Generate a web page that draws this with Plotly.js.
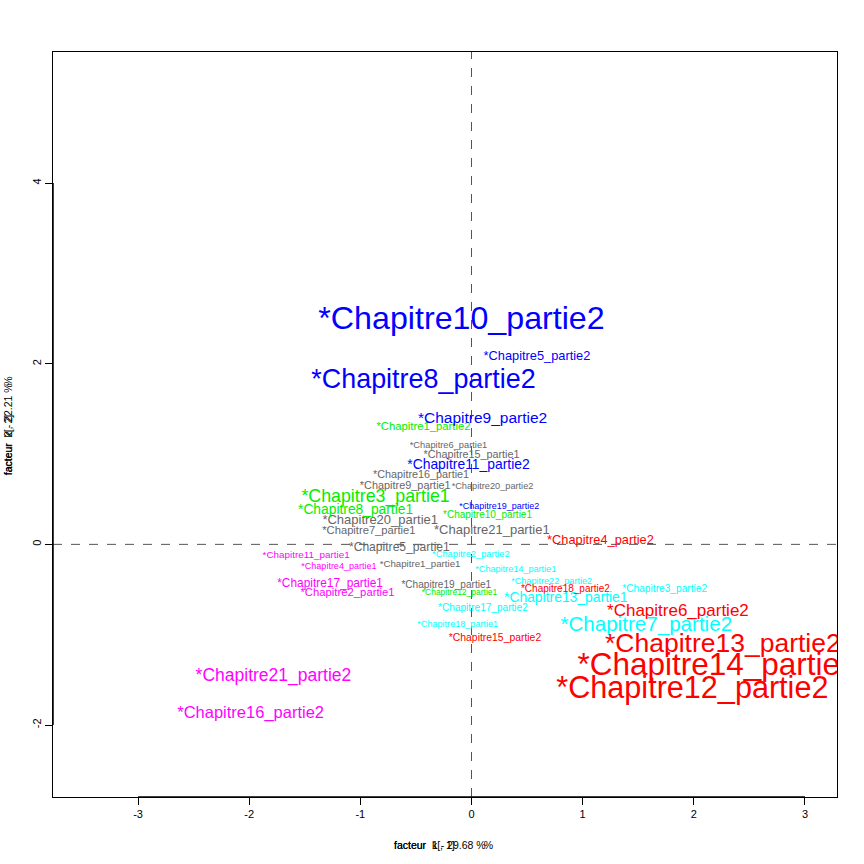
<!DOCTYPE html>
<html>
<head>
<meta charset="utf-8">
<script src="https://cdn.plot.ly/plotly-3.0.1.min.js"></script>
<style>html,body{margin:0;padding:0;background:#fff;}#chart{width:864px;height:864px;}</style>
</head>
<body>
<div id="chart"></div>
<script>
// ---- data (one set of arrays per class / colour) ----
const blueLabels = ["*Chapitre10_partie2","*Chapitre5_partie2","*Chapitre8_partie2","*Chapitre9_partie2","*Chapitre11_partie2","*Chapitre19_partie2"];
const blueX = [-0.09, 0.589, -0.432, 0.10, -0.027, 0.25];
const blueY = [2.473, 2.077, 1.808, 1.390, 0.873, 0.418];
const blueW = [32.2, 12.8, 26.9, 15.5, 13.9, 9.0];

const greenLabels = ["*Chapitre1_partie2","*Chapitre3_partie1","*Chapitre8_partie1","*Chapitre10_partie1","*Chapitre12_partie1"];
const greenX = [-0.432, -0.863, -1.043, 0.144, -0.108];
const greenY = [1.293, 0.513, 0.372, 0.322, -0.532];
const greenW = [11.3, 17.8, 13.8, 10.0, 8.5];

const greyLabels = ["*Chapitre6_partie1","*Chapitre15_partie1","*Chapitre16_partie1","*Chapitre9_partie1","*Chapitre20_partie2","*Chapitre20_partie1","*Chapitre7_partie1","*Chapitre21_partie1","*Chapitre5_partie1","*Chapitre1_partie1","*Chapitre19_partie1"];
const greyX = [-0.207, 0.0, -0.454, -0.596, 0.189, -0.821, -0.923, 0.183, -0.649, -0.463, -0.227];
const greyY = [1.092, 0.986, 0.765, 0.647, 0.634, 0.264, 0.149, 0.154, -0.038, -0.222, -0.453];
const greyW = [9.3, 10.8, 10.8, 10.9, 9.2, 13.0, 11.2, 13.0, 12.1, 9.7, 10.1];

const magentaLabels = ["*Chapitre11_partie1","*Chapitre4_partie1","*Chapitre17_partie1","*Chapitre2_partie1","*Chapitre21_partie2","*Chapitre16_partie2"];
const magentaX = [-1.488, -1.193, -1.272, -1.115, -1.782, -1.987];
const magentaY = [-0.119, -0.244, -0.435, -0.542, -1.459, -1.872];
const magentaW = [9.9, 9.0, 11.9, 11.3, 17.5, 16.5];

const cyanLabels = ["*Chapitre2_partie2","*Chapitre14_partie1","*Chapitre22_partie2","*Chapitre3_partie2","*Chapitre13_partie1","*Chapitre17_partie2","*Chapitre18_partie1","*Chapitre7_partie2"];
const cyanX = [-0.006, 0.398, 0.721, 1.738, 0.848, 0.103, -0.124, 1.572];
const cyanY = [-0.119, -0.281, -0.414, -0.497, -0.603, -0.708, -0.894, -0.900];
const cyanW = [9.3, 9.1, 9.1, 10.2, 13.9, 10.1, 9.1, 20.6];

const redLabels = ["*Chapitre4_partie2","*Chapitre18_partie2","*Chapitre15_partie2","*Chapitre6_partie2","*Chapitre13_partie2","*Chapitre14_partie2","*Chapitre12_partie2"];
const redX = [1.16, 0.845, 0.211, 1.857, 2.261, 2.213, 1.987];
const redY = [0.038, -0.497, -1.040, -0.750, -1.114, -1.362, -1.620];
const redW = [12.8, 10.0, 10.4, 17.0, 26.5, 31.5, 30.6];

const xTicks = [-3, -2, -1, 0, 1, 2, 3];
const yTicks = [-2, 0, 2, 4];
const NB = "\u00a0";
const xTitleA = "facteur" + NB + NB + "1" + NB + "-" + NB + "29.68" + NB + "%";
const xTitleB = "facteur" + NB + NB + "k[," + NB + "1]" + NB.repeat(10) + "%";
const yTitleA = "facteur" + NB + NB + "2" + NB + "-" + NB + "22.21" + NB + "%";
const yTitleB = "facteur" + NB + NB + "k[," + NB + "2]" + NB.repeat(10) + "%";

// ---- chart ----
const FONT = "Liberation Sans, Arial, Helvetica, sans-serif";
function textTrace(labels, xs, ys, ws, color) {
  return {
    type: "scatter", mode: "text",
    x: xs, y: ys, text: labels,
    textposition: "middle center",
    textfont: {family: FONT, size: ws, color: color},
    cliponaxis: true, hoverinfo: "skip", showlegend: false
  };
}
const traces = [
  textTrace(greyLabels, greyX, greyY, greyW, "#666666"),
  textTrace(greenLabels, greenX, greenY, greenW, "#00EE00"),
  textTrace(magentaLabels, magentaX, magentaY, magentaW, "#FF00FF"),
  textTrace(cyanLabels, cyanX, cyanY, cyanW, "#00FFFF"),
  textTrace(blueLabels, blueX, blueY, blueW, "#0000FF"),
  textTrace(redLabels, redX, redY, redW, "#FF0000")
];

const titleFont = {family: FONT, size: 10.5, color: "#000"};
const layout = {
  width: 864, height: 864,
  margin: {l: 53, r: 27, t: 52, b: 67},
  paper_bgcolor: "#fff", plot_bgcolor: "#fff",
  font: {family: FONT, color: "#000"},
  showlegend: false, hovermode: false,
  xaxis: {
    range: [-3.765, 3.288], tickvals: xTicks, ticktext: xTicks.map(String),
    ticks: "outside", ticklen: 7, tickwidth: 1, tickcolor: "#000",
    showgrid: false, zeroline: false,
    showline: true, mirror: true, linecolor: "#000", linewidth: 1,
    tickfont: {size: 11, color: "#000"}, fixedrange: true
  },
  yaxis: {
    range: [-2.797, 5.451], tickvals: yTicks, ticktext: yTicks.map(String),
    ticks: "outside", ticklen: 7, tickwidth: 1, tickcolor: "#000",
    tickangle: -90,
    showgrid: false, zeroline: false,
    showline: true, mirror: true, linecolor: "#000", linewidth: 1,
    tickfont: {size: 11, color: "#000"}, fixedrange: true
  },
  shapes: [
    {type: "line", xref: "x", yref: "paper", x0: 0, x1: 0, y0: 0, y1: 1,
     line: {color: "#555", width: 1, dash: "dash"}, layer: "below"},
    {type: "line", xref: "paper", yref: "y", x0: 0, x1: 1, y0: 0, y1: 0,
     line: {color: "#555", width: 1, dash: "dash"}, layer: "below"},
    {type: "line", xref: "x", yref: "paper", x0: xTicks[0], x1: xTicks[xTicks.length-1], y0: 0, y1: 0,
     line: {color: "#000", width: 1.5}},
    {type: "line", xref: "paper", yref: "y", x0: 0, x1: 0, y0: yTicks[0], y1: yTicks[yTicks.length-1],
     line: {color: "#000", width: 1.5}}
  ],
  annotations: [
    {text: xTitleA, xref: "paper", yref: "paper", x: 0.4324, y: -0.0644, xanchor: "left", yanchor: "middle", showarrow: false, font: titleFont},
    {text: xTitleB, xref: "paper", yref: "paper", x: 0.4324, y: -0.0644, xanchor: "left", yanchor: "middle", showarrow: false, font: titleFont},
    {text: yTitleA, xref: "paper", yref: "paper", x: -0.0574, y: 0.4295, textangle: -90, xanchor: "center", yanchor: "bottom", showarrow: false, font: titleFont},
    {text: yTitleB, xref: "paper", yref: "paper", x: -0.0574, y: 0.4295, textangle: -90, xanchor: "center", yanchor: "bottom", showarrow: false, font: titleFont}
  ]
};

Plotly.newPlot("chart", traces, layout, {displayModeBar: false, staticPlot: true});
</script>
</body>
</html>
